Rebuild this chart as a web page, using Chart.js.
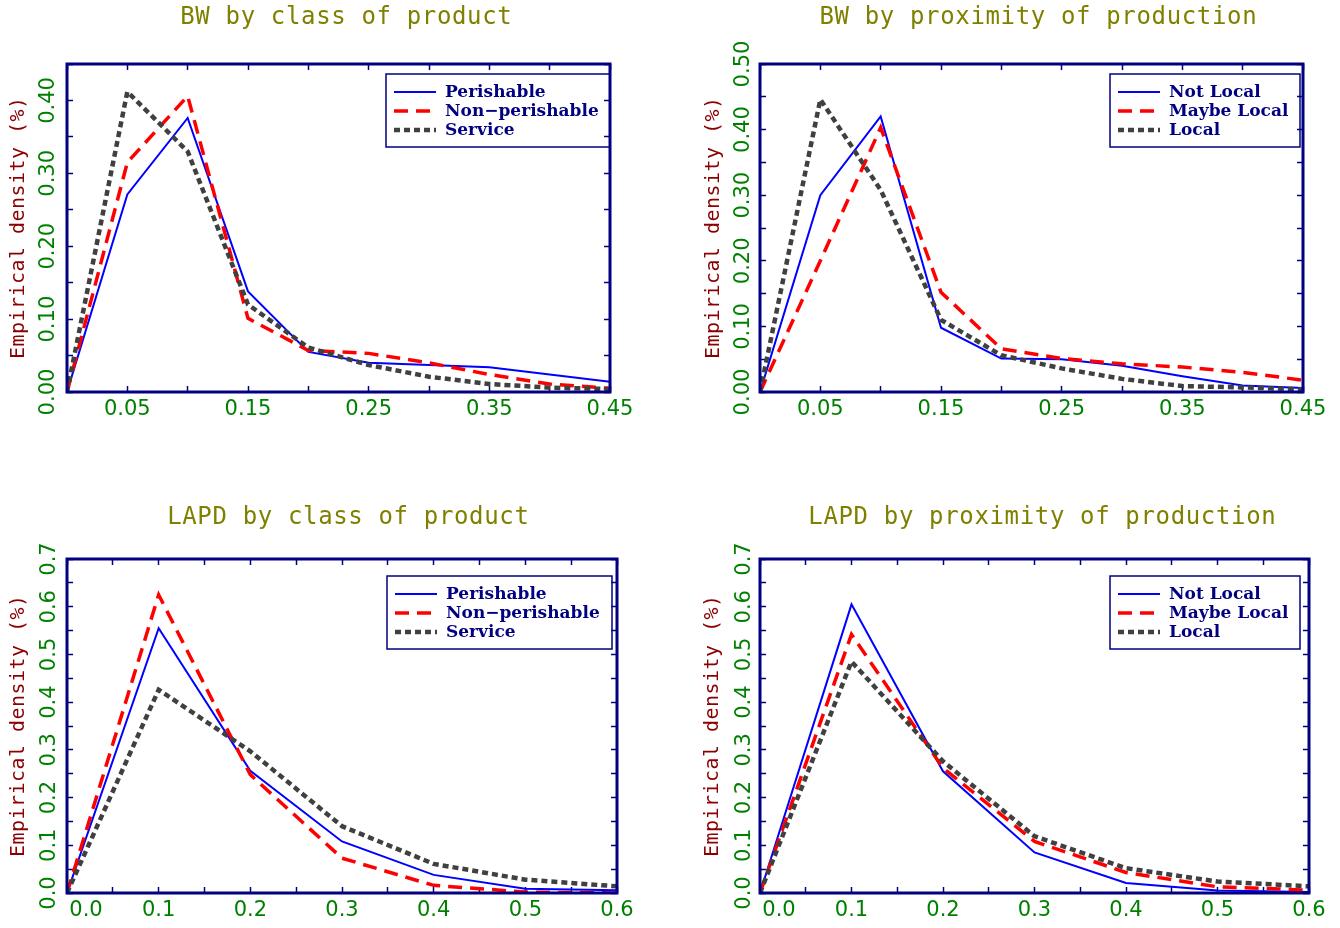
<!DOCTYPE html>
<html><head><meta charset="utf-8">
<script src="https://cdn.jsdelivr.net/npm/chart.js@4.4.1/dist/chart.umd.min.js"></script>
<style>
html,body{margin:0;padding:0;background:#fff;width:1340px;height:928px;overflow:hidden}
.p{position:absolute;width:670px;height:464px}
canvas{display:block}
</style></head><body>
<div class="p" style="left:0;top:0"><canvas id="c1" width="670" height="464"></canvas></div>
<div class="p" style="left:670px;top:0"><canvas id="c2" width="670" height="464"></canvas></div>
<div class="p" style="left:0;top:464px"><canvas id="c3" width="670" height="464"></canvas></div>
<div class="p" style="left:670px;top:464px"><canvas id="c4" width="670" height="464"></canvas></div>
<script>
// ---------- data ----------
const bwX   = [0, 0.05, 0.10, 0.15, 0.20, 0.25, 0.30, 0.35, 0.40, 0.45];
const lapdX = [0, 0.1, 0.2, 0.3, 0.4, 0.5, 0.6];

const bwPerishable    = [0, 0.271, 0.376, 0.138, 0.055, 0.040, 0.037, 0.034, 0.024, 0.014];
const bwNonPerishable = [0, 0.315, 0.406, 0.101, 0.057, 0.053, 0.040, 0.024, 0.011, 0.005];
const bwService       = [0, 0.412, 0.330, 0.120, 0.061, 0.037, 0.021, 0.011, 0.006, 0.004];

const bwNotLocal   = [0, 0.300, 0.420, 0.098, 0.051, 0.050, 0.040, 0.024, 0.010, 0.006];
const bwMaybeLocal = [0, 0.200, 0.403, 0.152, 0.066, 0.051, 0.043, 0.038, 0.030, 0.018];
const bwLocal      = [0, 0.446, 0.308, 0.110, 0.056, 0.036, 0.020, 0.009, 0.007, 0.004];

const lapdPerishable    = [0, 0.555, 0.256, 0.108, 0.038, 0.009, 0.006];
const lapdNonPerishable = [0, 0.625, 0.248, 0.073, 0.016, 0.002, 0.000];
const lapdService       = [0, 0.426, 0.297, 0.140, 0.061, 0.028, 0.014];

const lapdNotLocal   = [0, 0.605, 0.255, 0.085, 0.021, 0.005, 0.002];
const lapdMaybeLocal = [0, 0.542, 0.262, 0.108, 0.043, 0.013, 0.006];
const lapdLocal      = [0, 0.485, 0.276, 0.119, 0.052, 0.024, 0.014];

const classNames = ['Perishable', 'Non\u2212perishable', 'Service'];
const proxNames  = ['Not Local', 'Maybe Local', 'Local'];
const panelTitles = ['BW by class of product', 'BW by proximity of production',
                     'LAPD by class of product', 'LAPD by proximity of production'];
const yAxisTitle = 'Empirical density (%)';

// ticks
const bwXTicks = [0, 0.05, 0.10, 0.15, 0.20, 0.25, 0.30, 0.35, 0.40, 0.45];
const bwXTickLabels = ['', '0.05', '', '0.15', '', '0.25', '', '0.35', '', '0.45'];
const bwClassYTicks = [0, 0.05, 0.10, 0.15, 0.20, 0.25, 0.30, 0.35, 0.40, 0.45];
const bwClassYTickLabels = ['0.00', '', '0.10', '', '0.20', '', '0.30', '', '0.40', ''];
const bwProxYTicks = [0, 0.05, 0.10, 0.15, 0.20, 0.25, 0.30, 0.35, 0.40, 0.45, 0.50];
const bwProxYTickLabels = ['0.00', '', '0.10', '', '0.20', '', '0.30', '', '0.40', '', '0.50'];
const lapdXTicks = [0, 0.05, 0.1, 0.15, 0.2, 0.25, 0.3, 0.35, 0.4, 0.45, 0.5, 0.55, 0.6];
const lapdXTickLabels = ['0.0', '', '0.1', '', '0.2', '', '0.3', '', '0.4', '', '0.5', '', '0.6'];
const lapdYTicks = [0, 0.05, 0.1, 0.15, 0.2, 0.25, 0.3, 0.35, 0.4, 0.45, 0.5, 0.55, 0.6, 0.65, 0.7];
const lapdYTickLabels = ['0.0', '', '0.1', '', '0.2', '', '0.3', '', '0.4', '', '0.5', '', '0.6', '', '0.7'];

// ---------- style ----------
const NAVY = '#000080', GREEN = '#008000', OLIVE = '#808000', DARKRED = '#8b0000';
const STY = [
  {color: '#0000ff', width: 2,   dash: []},
  {color: '#ff0000', width: 3.5, dash: [14, 8]},
  {color: '#404040', width: 4.5, dash: [6, 4]}
];
const W = 670, H = 464;

function spacedText(ctx, text, x, y, target) {
  if ('letterSpacing' in ctx) ctx.letterSpacing = '0px';
  const w = ctx.measureText(text).width;
  if ('letterSpacing' in ctx && target) {
    const ls = (target - w) / text.length;
    ctx.letterSpacing = ls.toFixed(2) + 'px';
    ctx.fillText(text, x + ls / 2, y);
    ctx.letterSpacing = '0px';
  } else {
    ctx.fillText(text, x, y);
  }
}

const decor = {
  id: 'decor',
  afterDraw(chart, args, o) {
    const ctx = chart.ctx, a = chart.chartArea;
    ctx.save();
    // frame
    ctx.setLineDash([]);
    ctx.strokeStyle = NAVY; ctx.lineWidth = 3;
    ctx.strokeRect(a.left, a.top, a.right - a.left, a.bottom - a.top);
    // title
    ctx.fillStyle = OLIVE;
    ctx.font = '24px "DejaVu Sans Mono"';
    ctx.textAlign = 'center'; ctx.textBaseline = 'middle';
    spacedText(ctx, o.title, o.titleX, o.titleY, o.title.length * 15.1);
    // y-axis title
    ctx.save();
    ctx.translate(o.yTitleX, (a.top + a.bottom) / 2);
    ctx.rotate(-Math.PI / 2);
    ctx.fillStyle = DARKRED;
    ctx.font = '20px "DejaVu Sans Mono"';
    spacedText(ctx, yAxisTitle, 0, 0, yAxisTitle.length * 12.5);
    ctx.restore();
    // legend
    const L = o.legend;
    ctx.lineWidth = 1.5; ctx.strokeStyle = NAVY;
    ctx.strokeRect(L.left, L.top, L.right - L.left, L.bottom - L.top);
    ctx.font = 'bold 17px "DejaVu Serif"';
    ctx.textAlign = 'left'; ctx.textBaseline = 'middle';
    chart.data.datasets.forEach((ds, i) => {
      const yy = L.top + 18 + i * 19;
      ctx.save();
      ctx.strokeStyle = ds.borderColor; ctx.lineWidth = ds.borderWidth;
      ctx.setLineDash(ds.borderDash || []);
      ctx.lineCap = 'butt';
      ctx.beginPath(); ctx.moveTo(L.left + 8, yy); ctx.lineTo(L.left + 50, yy); ctx.stroke();
      ctx.restore();
      ctx.fillStyle = NAVY;
      ctx.fillText(ds.label, L.left + 59, yy + 1);
    });
    // shifted first x tick label
    if (o.firstXLabel) {
      const xs = chart.scales.x;
      const items = xs.getLabelItems ? xs.getLabelItems(a) : [];
      const ref = items.find(it => it.label && it.label !== '');
      ctx.fillStyle = GREEN;
      ctx.font = '21px "DejaVu Sans"';
      ctx.textAlign = 'center';
      if (ref) {
        ctx.textBaseline = ref.options.textBaseline;
        ctx.fillText(o.firstXLabel, xs.getPixelForValue(0) + 19, ref.options.translation[1] + ref.textOffset);
      } else {
        ctx.textBaseline = 'middle';
        ctx.fillText(o.firstXLabel, xs.getPixelForValue(0) + 19, a.bottom + 18);
      }
    }
    ctx.restore();
  }
};

function panel(id, p) {
  const A = p.area;
  const tickFont = {family: 'DejaVu Sans', size: 21};
  const gridOpt = {drawOnChartArea: false, drawTicks: true, tickLength: -6, tickColor: NAVY, tickWidth: 1.5};
  new Chart(document.getElementById(id), {
    type: 'line',
    data: {
      datasets: p.series.map((vals, i) => ({
        label: p.names[i],
        data: p.x.map((xv, j) => ({x: xv, y: vals[j]})),
        borderColor: STY[i].color, borderWidth: STY[i].width, borderDash: STY[i].dash,
        borderCapStyle: 'butt', borderJoinStyle: 'miter',
        pointRadius: 0, fill: false, tension: 0, order: 2 - i
      }))
    },
    options: {
      responsive: false, animation: false, events: [],
      layout: {padding: {left: 0, top: A.top, right: W - A.right, bottom: 0}},
      plugins: {
        legend: {display: false}, title: {display: false}, tooltip: {enabled: false},
        decor: {title: p.title, titleX: p.titleX, titleY: p.titleY, yTitleX: p.yTitleX,
                legend: p.legend, firstXLabel: p.firstXLabel}
      },
      scales: {
        x: {
          type: 'linear', position: 'bottom', min: 0, max: p.xMax,
          afterFit(s) { s.height = H - A.bottom; },
          afterBuildTicks(s) { s.ticks = p.xTicks.map(v => ({value: v})); },
          grid: gridOpt, border: {display: false},
          ticks: {autoSkip: false, minRotation: 0, maxRotation: 0, padding: 11, color: GREEN, font: tickFont,
                  callback: (v, i) => (p.firstXLabel && i === 0) ? '' : p.xLabels[i]}
        },
        y: {
          type: 'linear', position: 'left', min: 0, max: p.yMax,
          afterFit(s) { s.width = A.left; },
          afterBuildTicks(s) { s.ticks = p.yTicks.map(v => ({value: v})); },
          grid: gridOpt, border: {display: false},
          ticks: {autoSkip: false, minRotation: 90, maxRotation: 90, crossAlign: 'center', padding: p.yPad,
                  color: GREEN, font: tickFont, callback: (v, i) => p.yLabels[i]}
        },
        x2: {
          type: 'linear', position: 'top', min: 0, max: p.xMax,
          afterFit(s) { s.height = 0; },
          afterBuildTicks(s) { s.ticks = p.xTicks.map(v => ({value: v})); },
          grid: gridOpt, border: {display: false}, ticks: {display: false}
        },
        y2: {
          type: 'linear', position: 'right', min: 0, max: p.yMax,
          afterFit(s) { s.width = 0; },
          afterBuildTicks(s) { s.ticks = p.yTicks.map(v => ({value: v})); },
          grid: gridOpt, border: {display: false}, ticks: {display: false}
        }
      }
    },
    plugins: [decor]
  });
}

panel('c1', {
  x: bwX, series: [bwPerishable, bwNonPerishable, bwService], names: classNames,
  xMax: 0.45, yMax: 0.45, xTicks: bwXTicks, xLabels: bwXTickLabels,
  yTicks: bwClassYTicks, yLabels: bwClassYTickLabels, yPad: 1,
  area: {left: 67, top: 64, right: 610, bottom: 392},
  title: panelTitles[0], titleX: 346, titleY: 18, yTitleX: 19,
  legend: {left: 386, top: 74, right: 610, bottom: 147}
});
panel('c2', {
  x: bwX, series: [bwNotLocal, bwMaybeLocal, bwLocal], names: proxNames,
  xMax: 0.45, yMax: 0.50, xTicks: bwXTicks, xLabels: bwXTickLabels,
  yTicks: bwProxYTicks, yLabels: bwProxYTickLabels, yPad: -1,
  area: {left: 90, top: 64, right: 633, bottom: 392},
  title: panelTitles[1], titleX: 368, titleY: 18, yTitleX: 44,
  legend: {left: 440, top: 74, right: 630, bottom: 147}
});
panel('c3', {
  x: lapdX, series: [lapdPerishable, lapdNonPerishable, lapdService], names: classNames,
  xMax: 0.6, yMax: 0.7, xTicks: lapdXTicks, xLabels: lapdXTickLabels, firstXLabel: lapdXTickLabels[0],
  yTicks: lapdYTicks, yLabels: lapdYTickLabels, yPad: 7,
  area: {left: 67, top: 95, right: 617, bottom: 429},
  title: panelTitles[2], titleX: 348, titleY: 54, yTitleX: 19,
  legend: {left: 387, top: 112, right: 612, bottom: 185}
});
panel('c4', {
  x: lapdX, series: [lapdNotLocal, lapdMaybeLocal, lapdLocal], names: proxNames,
  xMax: 0.6, yMax: 0.7, xTicks: lapdXTicks, xLabels: lapdXTickLabels, firstXLabel: lapdXTickLabels[0],
  yTicks: lapdYTicks, yLabels: lapdYTickLabels, yPad: 5,
  area: {left: 90, top: 95, right: 639, bottom: 429},
  title: panelTitles[3], titleX: 372, titleY: 54, yTitleX: 43,
  legend: {left: 440, top: 112, right: 630, bottom: 185}
});
</script>
</body></html>
